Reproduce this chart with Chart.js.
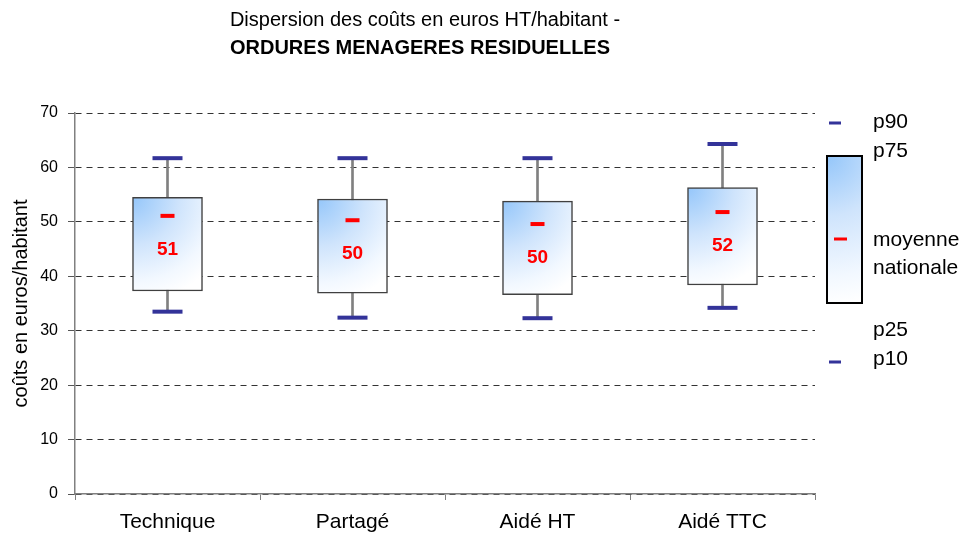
<!DOCTYPE html>
<html>
<head>
<meta charset="utf-8">
<script src="https://cdn.jsdelivr.net/npm/chart.js@4.4.0/dist/chart.umd.min.js"></script>
<style>
html, body { margin: 0; padding: 0; background: #fff; }
</style>
</head>
<body>
<canvas id="chart_box" width="960" height="535"></canvas>
<script>
// Data (euros HT / habitant)
const categories = ['Technique', 'Partagé', 'Aidé HT', 'Aidé TTC'];
const p10 = [33.5, 32.4, 32.3, 34.2];
const p25 = [37.3, 36.9, 36.6, 38.4];
const p75 = [54.5, 54.2, 53.8, 56.3];
const p90 = [61.7, 61.7, 61.7, 64.3];
const moyenne = [51.1, 50.3, 49.6, 51.8];

const titleLine1 = 'Dispersion des coûts en euros HT/habitant -';
const titleLine2 = 'ORDURES MENAGERES RESIDUELLES';
const yTitle = 'coûts en euros/habitant';

const FONT = '"Liberation Sans", Arial, sans-serif';
Chart.defaults.font.family = FONT;
Chart.defaults.color = '#000';

function boxGradient(context) { // gradient fill of each box, blue in the top left corner
    const chart = context.chart;
    const xs = chart.scales.x;
    const ys = chart.scales.y;
    if (!chart.chartArea || !xs || !ys || context.dataIndex === undefined) return '#d6e8fc';
    const i = context.dataIndex;
    const cx = xs.getPixelForValue(i) - 35;
    const cy = ys.getPixelForValue(p75[i]);
    const g = chart.ctx.createRadialGradient(cx, cy, 0, cx, cy, 105);
    g.addColorStop(0, '#94c6fa');
    g.addColorStop(0.45, '#cfe4fc');
    g.addColorStop(0.8, '#f2f8ff');
    g.addColorStop(1, '#ffffff');
    return g;
}

// Plugin drawing the title, the mean labels and the legend on the right
const overlayPlugin = {
    id: 'overlay',
    afterDatasetsDraw(chart) {
        const {ctx, scales: {x, y}} = chart;
        ctx.save();
        ctx.font = 'bold 19px ' + FONT;
        ctx.fillStyle = '#ff0000';
        ctx.textAlign = 'center';
        ctx.textBaseline = 'middle';
        moyenne.forEach((m, i) => {
            ctx.fillText(String(Math.round(m)), x.getPixelForValue(i), y.getPixelForValue(m) + 34);
        });
        ctx.restore();
    },
    afterDraw(chart) {
        const {ctx, chartArea} = chart;
        const r = chartArea.right;
        const t = chartArea.top;
        ctx.save();

        // title
        ctx.fillStyle = '#000';
        ctx.textAlign = 'center';
        ctx.textBaseline = 'middle';
        ctx.font = '20px ' + FONT;
        ctx.fillText(titleLine1, 425, 20);
        ctx.font = 'bold 20px ' + FONT;
        ctx.fillText(titleLine2, 420, 48);

        // legend markers
        ctx.lineWidth = 3;
        ctx.strokeStyle = '#333399';
        ctx.beginPath();
        ctx.moveTo(r + 14, t + 10); ctx.lineTo(r + 26, t + 10);
        ctx.moveTo(r + 14, t + 249); ctx.lineTo(r + 26, t + 249);
        ctx.stroke();

        const bx = r + 12, by = t + 43, bw = 35, bh = 147;
        const g = ctx.createRadialGradient(bx, by, 0, bx, by, 150);
        g.addColorStop(0, '#94c6fa');
        g.addColorStop(0.4, '#cfe4fc');
        g.addColorStop(0.8, '#f2f8ff');
        g.addColorStop(1, '#ffffff');
        ctx.fillStyle = g;
        ctx.fillRect(bx, by, bw, bh);
        ctx.lineWidth = 2;
        ctx.strokeStyle = '#000';
        ctx.strokeRect(bx, by, bw, bh);

        ctx.lineWidth = 3;
        ctx.strokeStyle = '#ff0000';
        ctx.beginPath();
        ctx.moveTo(r + 19, t + 126); ctx.lineTo(r + 32, t + 126);
        ctx.stroke();

        // legend texts
        ctx.fillStyle = '#000';
        ctx.textAlign = 'left';
        ctx.font = '21px ' + FONT;
        const lx = r + 58;
        ctx.fillText('p90', lx, t + 9);
        ctx.fillText('p75', lx, t + 38);
        ctx.fillText('moyenne', lx, t + 127);
        ctx.fillText('nationale', lx, t + 155);
        ctx.fillText('p25', lx, t + 217);
        ctx.fillText('p10', lx, t + 246);
        ctx.restore();
    }
};

const ctx = document.getElementById('chart_box').getContext('2d');
const boxChart = new Chart(ctx, {
    type: 'bar',
    data: {
        labels: categories,
        datasets: [
            {
                label: 'p10-p90',
                data: p10.map((v, i) => [v, p90[i]]),
                backgroundColor: '#808080',
                barThickness: 2,
                grouped: false,
                order: 4
            },
            {
                label: 'p25-p75',
                data: p25.map((v, i) => [v, p75[i]]),
                backgroundColor: boxGradient,
                borderColor: '#404040',
                borderWidth: 1.5,
                borderSkipped: false,
                barThickness: 70,
                grouped: false,
                order: 3
            },
            {
                type: 'line',
                label: 'p90',
                data: p90,
                showLine: false,
                pointStyle: 'line',
                pointRadius: 15,
                pointHoverRadius: 15,
                pointBorderWidth: 4,
                borderColor: '#333399',
                order: 2
            },
            {
                type: 'line',
                label: 'p10',
                data: p10,
                showLine: false,
                pointStyle: 'line',
                pointRadius: 15,
                pointHoverRadius: 15,
                pointBorderWidth: 4,
                borderColor: '#333399',
                order: 2
            },
            {
                type: 'line',
                label: 'moyenne nationale',
                data: moyenne,
                showLine: false,
                pointStyle: 'line',
                pointRadius: 7,
                pointHoverRadius: 7,
                pointBorderWidth: 4,
                borderColor: '#ff0000',
                order: 1
            }
        ]
    },
    options: {
        responsive: false,
        animation: false,
        layout: {
            padding: {top: 113, right: 145, bottom: 0, left: 0}
        },
        plugins: {
            legend: {display: false},
            tooltip: {enabled: false}
        },
        scales: {
            x: {
                offset: true,
                ticks: {
                    color: '#000',
                    font: {size: 21},
                    padding: 10,
                    maxRotation: 0
                },
                grid: {
                    display: true,
                    drawOnChartArea: false,
                    offset: true,
                    tickLength: 6,
                    color: '#808080'
                },
                border: {color: '#808080', width: 1.5},
                afterFit(scale) { scale.height = 41; }
            },
            y: {
                min: 0,
                max: 70,
                ticks: {
                    stepSize: 10,
                    padding: 10,
                    color: '#000',
                    font: {size: 16}
                },
                grid: {
                    color: '#333',
                    tickColor: '#555',
                    tickLength: 7,
                    tickBorderDash: []
                },
                border: {color: '#808080', width: 1.5, dash: [6, 5]},
                title: {
                    display: true,
                    text: yTitle,
                    color: '#000',
                    font: {size: 20},
                    padding: {top: 9, bottom: 0}
                },
                afterFit(scale) { scale.width = 75; }
            }
        }
    },
    plugins: [overlayPlugin]
});
</script>
</body>
</html>
